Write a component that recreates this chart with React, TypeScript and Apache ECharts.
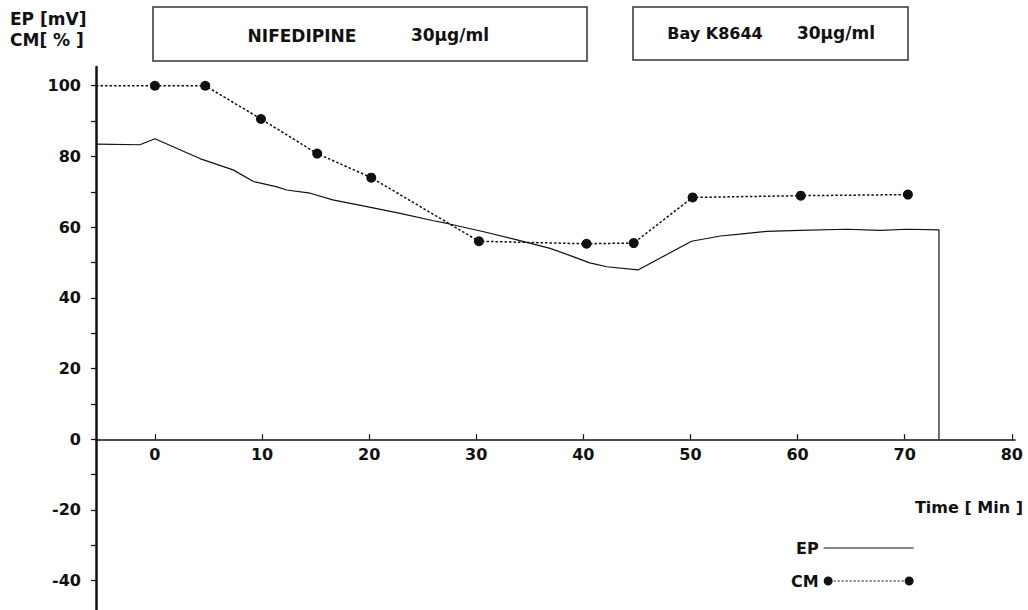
import React, { useEffect, useRef } from "react";
import * as echarts from "echarts";

// CM: the first entry is where the dotted line leaves the y axis (no marker there)
const cmTime = [-5.5, 0, 4.7, 9.9, 15.15, 20.2, 30.25, 40.3, 44.7, 50.2, 60.3, 70.3];
const cmValue = [100, 100, 100, 90.6, 80.8, 74.0, 56.0, 55.3, 55.5, 68.4, 68.9, 69.2];
const cmMarked = [false, true, true, true, true, true, true, true, true, true, true, true];

const epTime = [-5.5, -1.4, 0, 4.2, 7.3, 9.2, 11.4, 12.3, 14.5, 16.6, 19.8, 22.9, 26.0, 27.5, 30.7, 33.8, 36.9, 39.1, 40.6, 42.2, 45.1, 50.1, 52.8, 54.6, 57.1, 60.2, 64.6, 67.7, 70.2, 73.2, 73.2];
const epValue = [83.5, 83.3, 85.0, 79.4, 76.2, 72.9, 71.4, 70.5, 69.6, 67.7, 65.8, 63.9, 61.8, 60.9, 58.7, 56.4, 54.0, 51.6, 49.9, 48.8, 47.9, 56.0, 57.5, 58.0, 58.8, 59.1, 59.4, 59.1, 59.4, 59.2, 0];

const xTickLabels = [0, 10, 20, 30, 40, 50, 60, 70, 80];
const yTickLabels = [-40, -20, 0, 20, 40, 60, 80, 100];
const yMinorTicks = [-40, -30, -20, -10, 0, 10, 20, 30, 40, 50, 60, 70, 80, 90, 100];

const seriesNames = ["EP", "CM"];
const boxTexts = ["NIFEDIPINE", "30μg/ml", "Bay K8644", "30μg/ml"];
const yTitle = ["EP [mV]", "CM[ % ]"];
const xTitle = "Time [ Min ]";

const FONT = "'DejaVu Sans', 'Liberation Sans', Arial, sans-serif";

const Y_MIN = -48.3;
const Y_MAX = 105.3;
const GRID_TOP = 67;
const GRID_BOTTOM = 0;
const CHART_H = 610;

function cmIconPath(): string {
  // legend icon: dot - dotted line - dot, in a 90x10 box
  let d = "path://M0,5a4.5,4.5 0 1,0 9,0a4.5,4.5 0 1,0 -9,0z";
  for (let x = 10; x < 80; x += 4) {
    d += `M${x},4.4h2v1.2h-2z`;
  }
  d += "M81,5a4.5,4.5 0 1,0 9,0a4.5,4.5 0 1,0 -9,0z";
  return d;
}

export default function App() {
  const ref = useRef<HTMLDivElement>(null);
  useEffect(() => {
    if (!ref.current) return;
    const chart = echarts.init(ref.current, undefined, { renderer: "svg" });
    const epData = epTime.map((t, i) => [t, epValue[i]]);
    const cmData = cmTime.map((t, i) =>
      cmMarked[i] ? { value: [t, cmValue[i]] } : { value: [t, cmValue[i]], symbol: "none" }
    );
    // place the x axis at y = 0 by shifting it up from the grid bottom
    const gridH = CHART_H - GRID_TOP - GRID_BOTTOM;
    const zeroFromBottom = ((0 - Y_MIN) / (Y_MAX - Y_MIN)) * gridH;
    chart.setOption({
      animation: false,
      backgroundColor: "#ffffff",
      textStyle: { fontFamily: FONT },
      grid: {
        left: 96,
        right: 13,
        top: GRID_TOP,
        bottom: GRID_BOTTOM,
        containLabel: false,
        outerBoundsMode: "none",
      },
      xAxis: {
        type: "value",
        min: -5.5,
        max: 80.3,
        position: "bottom",
        offset: -zeroFromBottom,
        axisLine: { onZero: false, lineStyle: { color: "#111", width: 1.5 } },
        axisTick: {
          show: true,
          inside: true,
          length: 5,
          customValues: xTickLabels,
          lineStyle: { color: "#111", width: 1.2 },
        },
        axisLabel: {
          customValues: xTickLabels,
          color: "#111",
          fontSize: 16,
          fontWeight: "bold",
          fontFamily: FONT,
          margin: 7,
        },
        splitLine: { show: false },
      },
      yAxis: {
        type: "value",
        min: Y_MIN,
        max: Y_MAX,
        axisLine: { show: true, onZero: false, lineStyle: { color: "#111", width: 2.5 } },
        axisTick: {
          show: true,
          length: 5,
          customValues: yMinorTicks,
          lineStyle: { color: "#111", width: 1.2 },
        },
        axisLabel: {
          customValues: yTickLabels,
          color: "#111",
          fontSize: 16,
          fontWeight: "bold",
          fontFamily: FONT,
          margin: 15,
        },
        splitLine: { show: false },
      },
      legend: {
        orient: "vertical",
        left: 786,
        top: 535,
        align: "right",
        itemGap: 17,
        itemWidth: 90,
        itemHeight: 10,
        textStyle: { color: "#111", fontSize: 16, fontWeight: "bold", fontFamily: FONT },
        data: [
          { name: "EP", icon: "path://M0,4.4h90v1.2h-90z", itemStyle: { color: "#111" } },
          { name: "CM", icon: cmIconPath(), itemStyle: { color: "#111" } },
        ],
      },
      series: [
        {
          name: seriesNames[0],
          type: "line",
          data: epData,
          showSymbol: false,
          symbol: "none",
          lineStyle: { color: "#111", width: 1.2 },
          itemStyle: { color: "#111" },
          z: 2,
        },
        {
          name: seriesNames[1],
          type: "line",
          data: cmData,
          symbol: "circle",
          symbolSize: 10,
          lineStyle: { color: "#111", width: 1.5, type: [2.5, 2] },
          itemStyle: { color: "#111" },
          z: 3,
        },
      ],
      graphic: [
        {
          type: "text",
          left: 10,
          top: 10,
          style: { text: yTitle[0], font: `bold 17px ${FONT}`, fill: "#111" },
        },
        {
          type: "text",
          left: 10,
          top: 31,
          style: { text: yTitle[1], font: `bold 17px ${FONT}`, fill: "#111" },
        },
        {
          type: "rect",
          shape: { x: 153, y: 7, width: 434, height: 54 },
          style: { fill: "#fff", stroke: "#333", lineWidth: 1.5 },
        },
        {
          type: "text",
          x: 302,
          y: 36,
          style: { text: boxTexts[0], font: `bold 17px ${FONT}`, fill: "#111", align: "center", verticalAlign: "middle" },
        },
        {
          type: "text",
          x: 450,
          y: 35,
          style: { text: boxTexts[1], font: `bold 17px ${FONT}`, fill: "#111", align: "center", verticalAlign: "middle" },
        },
        {
          type: "rect",
          shape: { x: 633, y: 7, width: 275, height: 53 },
          style: { fill: "#fff", stroke: "#333", lineWidth: 1.5 },
        },
        {
          type: "text",
          x: 715,
          y: 33,
          style: { text: boxTexts[2], font: `bold 16px ${FONT}`, fill: "#111", align: "center", verticalAlign: "middle" },
        },
        {
          type: "text",
          x: 836,
          y: 33,
          style: { text: boxTexts[3], font: `bold 17px ${FONT}`, fill: "#111", align: "center", verticalAlign: "middle" },
        },
        {
          type: "text",
          right: 5,
          top: 499,
          style: { text: xTitle, font: `bold 16px ${FONT}`, fill: "#111" },
        },
      ],
    });
    return () => chart.dispose();
  }, []);
  return (
    <div
      ref={ref}
      style={{ position: "absolute", left: 0, top: 0, width: 1028, height: 610 }}
    />
  );
}
